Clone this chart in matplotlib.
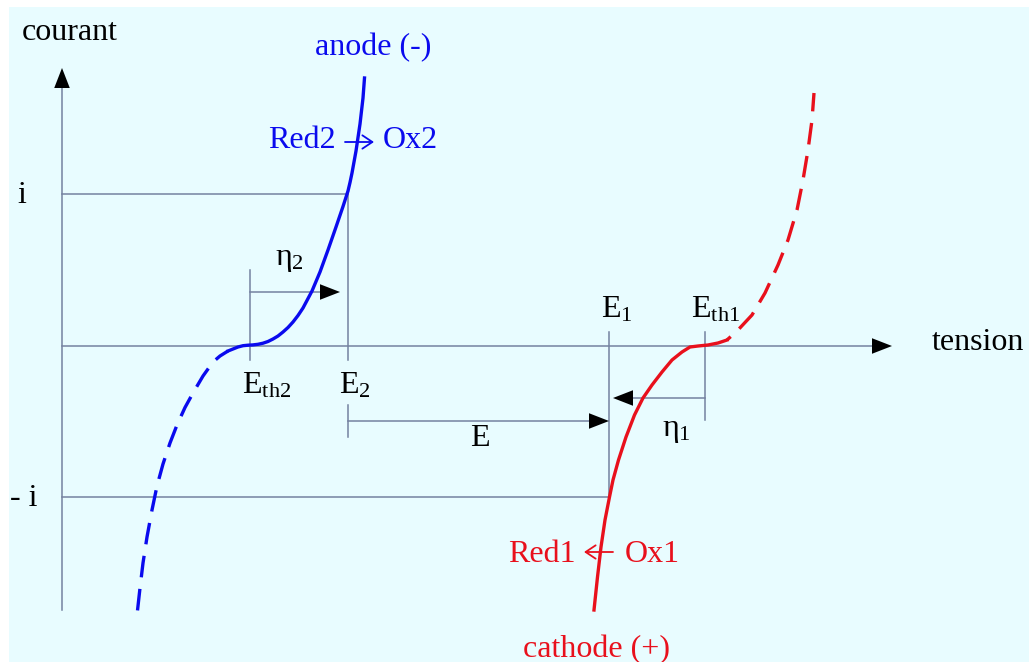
import matplotlib
matplotlib.use("Agg")
import matplotlib.pyplot as plt
from matplotlib.patches import Rectangle

plt.rcParams['font.family'] = ['Liberation Serif', 'DejaVu Serif']
plt.rcParams['mathtext.fontset'] = 'custom'
plt.rcParams['mathtext.rm'] = 'Liberation Serif'
plt.rcParams['mathtext.it'] = 'Liberation Serif:italic'
plt.rcParams['mathtext.bf'] = 'Liberation Serif:bold'

# potentials on the tension axis (origin at the axes crossing)
E_TH2 = 188
E2 = 286
E1 = 547
E_TH1 = 643
I_POS = 152
I_NEG = -151
X_AXIS_END = 830
Y_AXIS_TOP = 278
Y_AXIS_BOTTOM = -264

# anode curve (blue)
anode_solid_x = [166, 171, 176, 181, 186, 191, 196, 201, 206, 211, 216, 221, 226, 231, 236, 241,
                 250, 258, 266, 274, 281, 286, 288, 290, 294, 298, 301, 302.5]
anode_solid_y = [-5, -3, -1, 0.3, 0.8, 1.1, 1.7, 2.8, 4.5, 7, 10, 14, 18.5, 24, 30.5, 38,
                 55, 74, 96, 119, 139.5, 155, 163.5, 173, 195, 222, 248, 268]
anode_dash_x = [166, 158, 151, 141, 131, 123, 115, 108, 101, 95, 90, 85, 81, 78, 75]
anode_dash_y = [-5, -10, -16, -30, -47, -61.5, -79, -97, -118, -140, -164, -191, -217, -242, -269]

# cathode curve (red)
cathode_solid_x = [665, 656, 646, 636, 628, 620, 610, 600, 590, 581, 572.5, 564, 556.5, 551, 547.5, 543, 539, 535.5, 532]
cathode_solid_y = [6, 3, 1, 0, -1, -6, -14, -26, -39, -52, -69, -91, -114, -134, -151, -174, -201, -231, -264]
cathode_dash_x = [665, 676, 690, 703, 716, 726, 735, 741, 746, 750, 752]
cathode_dash_y = [6, 16, 31, 53, 81, 106, 136, 166, 196, 226, 253]

GREY = '#7482a0'
BLUE = '#0a0aee'
RED = '#e8101c'
BG = '#e8fcff'
FS = 23

fig = plt.figure(figsize=(10.29, 6.62), dpi=100)
ax = fig.add_axes([0, 0, 1, 1])
ax.set_xlim(-62, 967)
ax.set_ylim(-316, 346)
ax.axis('off')

ax.add_patch(Rectangle((-53, -316), 1020, 655, facecolor=BG, edgecolor='none', zorder=0))


def head(x0, y0, x1, y1, scale=16):
    ax.annotate('', xy=(x1, y1), xytext=(x0, y0),
                arrowprops=dict(arrowstyle='-|>,head_length=0.9,head_width=0.35',
                                color='black', lw=0, mutation_scale=scale,
                                shrinkA=0, shrinkB=0), zorder=4)


def reaction_arrow(x0, x1, y, color):
    ax.annotate('', xy=(x1, y), xytext=(x0, y),
                arrowprops=dict(arrowstyle='->,head_length=0.45,head_width=0.3',
                                color=color, lw=1.3, mutation_scale=16,
                                shrinkA=0, shrinkB=0), zorder=4)


lw = 1.1
# axes
ax.plot([0, 0], [Y_AXIS_BOTTOM, Y_AXIS_TOP - 8], color=GREY, lw=lw)
head(0, Y_AXIS_BOTTOM, 0, Y_AXIS_TOP)
ax.plot([0, X_AXIS_END - 8], [0, 0], color=GREY, lw=lw)
head(0, 0, X_AXIS_END, 0)

# construction lines
ax.plot([0, E2], [I_POS, I_POS], color=GREY, lw=lw)
ax.plot([0, E1], [I_NEG, I_NEG], color=GREY, lw=lw)
ax.plot([E2, E2], [I_POS, -14], color=GREY, lw=lw)
ax.plot([E2, E2], [-59, -91], color=GREY, lw=lw)
ax.plot([E_TH2, E_TH2], [76, -14], color=GREY, lw=lw)
ax.plot([E1, E1], [14, I_NEG], color=GREY, lw=lw)
ax.plot([E_TH1, E_TH1], [14, -74], color=GREY, lw=lw)

# overpotential and E arrows
ax.plot([E_TH2, E2 - 12], [54, 54], color=GREY, lw=lw)
head(E_TH2, 54, E2 - 8, 54)
ax.plot([E_TH1, E1 + 8], [-52, -52], color=GREY, lw=lw)
head(E_TH1, -52, E1 + 4, -52)
ax.plot([E2, E1 - 8], [-75, -75], color=GREY, lw=lw)
head(E2, -75, E1, -75)

# curves
ax.plot(anode_solid_x, anode_solid_y, color=BLUE, lw=2.4, solid_joinstyle='round', zorder=3)
ax.plot(anode_dash_x, anode_dash_y, color=BLUE, lw=2.4, linestyle=(2, (6.5, 3.5)), zorder=3)
ax.plot(cathode_solid_x, cathode_solid_y, color=RED, lw=2.4, solid_joinstyle='round', zorder=3)
ax.plot(cathode_dash_x, cathode_dash_y, color=RED, lw=2.4, linestyle=(5, (6.5, 3.5)), zorder=3)

# labels
ax.text(-40, 306, 'courant', fontsize=FS, ha='left', va='baseline')
ax.text(870, -4, 'tension', fontsize=FS, ha='left', va='baseline')
ax.text(-40, 143, 'i', fontsize=FS, ha='center', va='baseline')
ax.text(-52, -160, '- i', fontsize=FS, ha='left', va='baseline')
ax.text(253, 291, 'anode (-)', fontsize=FS, color=BLUE, ha='left', va='baseline')
ax.text(206, 198, 'Red2', fontsize=FS, color=BLUE, ha='left', va='baseline')
reaction_arrow(283, 312, 204, BLUE)
ax.text(321, 198, 'Ox2', fontsize=FS, color=BLUE, ha='left', va='baseline')
ax.text(446, -216, 'Red1', fontsize=FS, color=RED, ha='left', va='baseline')
reaction_arrow(551, 522, -206, RED)
ax.text(563, -216, 'Ox1', fontsize=FS, color=RED, ha='left', va='baseline')
ax.text(461, -311, 'cathode (+)', fontsize=FS, color=RED, ha='left', va='baseline')
ax.text(213, 81, '$\\mathrm{\u03b7}_{2}$', fontsize=FS, ha='left', va='baseline')
ax.text(600, -90, '$\\mathrm{\u03b7}_{1}$', fontsize=FS, ha='left', va='baseline')
ax.text(180, -48, r'$\mathrm{E}_{\mathrm{th2}}$', fontsize=FS, ha='left', va='baseline')
ax.text(277, -48, r'$\mathrm{E}_{2}$', fontsize=FS, ha='left', va='baseline')
ax.text(408, -100, 'E', fontsize=FS, ha='left', va='baseline')
ax.text(539, 29, r'$\mathrm{E}_{1}$', fontsize=FS, ha='left', va='baseline')
ax.text(629, 29, r'$\mathrm{E}_{\mathrm{th1}}$', fontsize=FS, ha='left', va='baseline')

fig.savefig('out.png', dpi=100)
